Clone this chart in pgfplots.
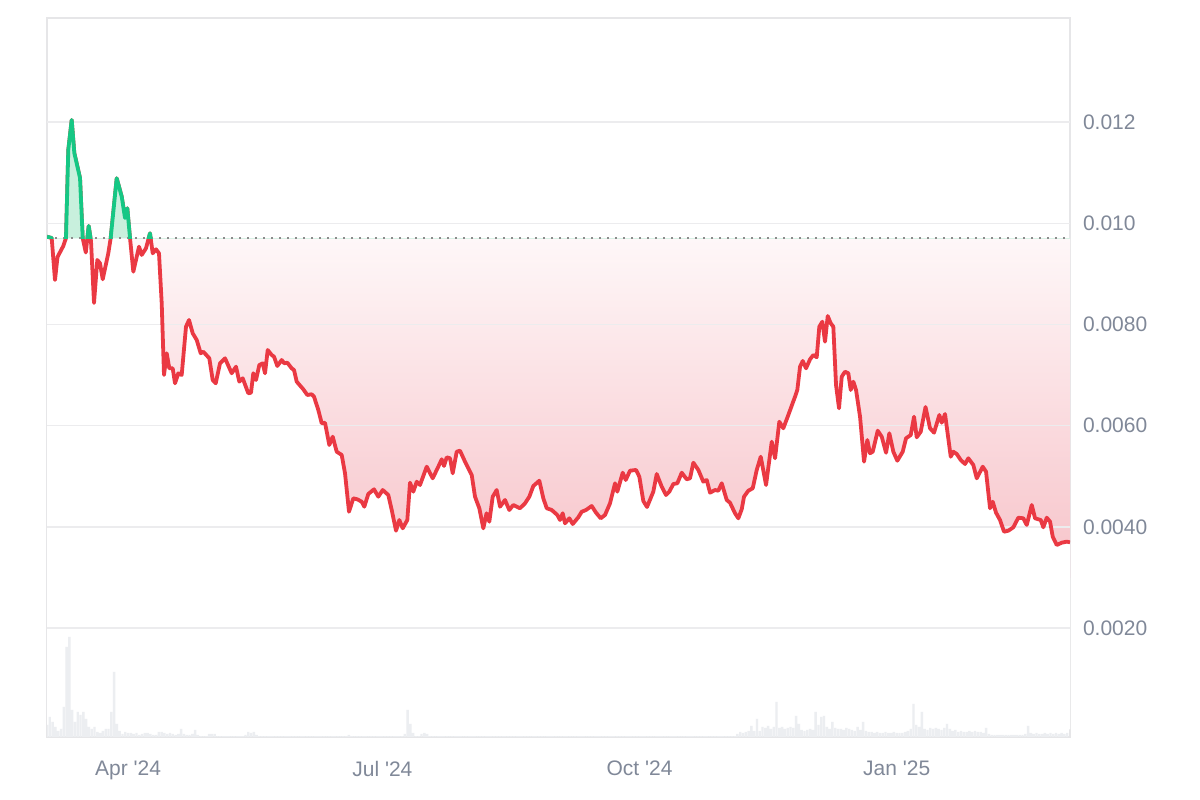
\documentclass[border=0pt]{standalone}
\usepackage{fontspec}
\setmainfont{Liberation Sans}
\usepackage{pgfplots}
\pgfplotsset{compat=1.18}
\usepackage{pgfplotstable}
\definecolor{cgred}{RGB}{234,57,67}
\definecolor{cggreen}{RGB}{22,199,132}
\definecolor{greenfill}{RGB}{200,240,221}
\definecolor{redtop}{RGB}{254,247,248}
\definecolor{redbot}{RGB}{247,195,201}
\definecolor{gridgray}{RGB}{236,236,238}
\definecolor{framegray}{RGB}{230,230,232}
\definecolor{labelgray}{RGB}{128,136,152}
\definecolor{dotgray}{RGB}{140,140,140}
\definecolor{volgray}{RGB}{236,238,241}

\pgfplotstableread{
d p
0.00 0.009735
1.68 0.009709
2.86 0.008879
3.76 0.009334
5.83 0.009551
6.80 0.009709
7.62 0.011449
8.84 0.012042
9.77 0.011389
11.81 0.010895
12.77 0.009709
13.88 0.009423
14.92 0.009947
15.74 0.009650
16.82 0.008425
18.00 0.009275
18.96 0.009209
19.93 0.008893
21.93 0.009407
22.79 0.009709
24.94 0.010889
26.73 0.010526
27.91 0.010105
28.73 0.010296
29.70 0.009709
30.88 0.009043
32.92 0.009538
33.88 0.009374
35.42 0.009506
36.85 0.009802
37.82 0.009407
39.00 0.009486
40.07 0.009407
41.04 0.008419
41.86 0.007002
42.83 0.007431
43.76 0.007134
44.97 0.007134
45.80 0.006838
46.98 0.007036
48.19 0.007002
49.73 0.007957
50.81 0.008089
52.13 0.007826
53.56 0.007694
54.99 0.007431
55.92 0.007462
58.07 0.007332
59.28 0.006903
60.36 0.006838
61.90 0.007233
63.69 0.007332
66.08 0.007036
67.62 0.007166
68.80 0.006870
70.02 0.006937
72.02 0.006640
72.99 0.006652
73.81 0.007036
74.78 0.006903
75.96 0.007200
77.17 0.007233
78.00 0.007036
78.96 0.007496
80.39 0.007397
81.22 0.007364
82.40 0.007180
83.97 0.007298
84.90 0.007233
85.97 0.007245
87.55 0.007134
88.37 0.007101
89.34 0.006870
91.70 0.006719
93.13 0.006607
94.70 0.006621
95.53 0.006573
97.07 0.006310
98.28 0.006047
99.46 0.006059
101.00 0.005619
102.22 0.005783
103.65 0.005486
105.44 0.005421
106.62 0.005059
108.05 0.004300
109.59 0.004565
111.02 0.004545
112.59 0.004498
113.52 0.004399
114.95 0.004650
116.99 0.004743
118.53 0.004597
120.11 0.004729
122.11 0.004630
123.33 0.004334
124.87 0.003925
126.05 0.004136
127.26 0.003972
128.91 0.004136
129.87 0.004874
131.06 0.004696
132.27 0.004893
133.45 0.004828
135.85 0.005190
137.99 0.004960
140.00 0.005190
141.22 0.005336
142.04 0.005204
143.00 0.005375
144.19 0.005356
145.15 0.005059
146.58 0.005486
147.76 0.005506
149.55 0.005289
151.95 0.005026
153.13 0.004597
154.67 0.004368
156.10 0.003972
157.25 0.004269
158.25 0.004103
159.46 0.004597
160.89 0.004729
162.08 0.004399
163.86 0.004532
165.40 0.004334
166.83 0.004433
169.23 0.004368
171.02 0.004466
172.56 0.004597
173.99 0.004808
176.14 0.004913
177.57 0.004565
178.78 0.004368
180.57 0.004334
182.58 0.004235
183.54 0.004136
184.51 0.004269
185.33 0.004071
186.87 0.004170
188.09 0.004057
190.09 0.004190
191.31 0.004300
192.84 0.004334
194.88 0.004413
196.42 0.004281
198.10 0.004170
199.64 0.004235
201.43 0.004466
203.22 0.004862
204.04 0.004696
205.97 0.005071
207.05 0.004927
208.59 0.005111
210.73 0.005125
211.92 0.004992
213.34 0.004512
214.67 0.004393
216.92 0.004696
218.14 0.005045
219.93 0.004794
221.47 0.004630
222.65 0.004696
224.08 0.004848
225.51 0.004862
227.09 0.005071
228.87 0.004941
230.05 0.004960
231.24 0.005269
233.02 0.005125
234.81 0.004893
236.03 0.004927
237.21 0.004676
239.00 0.004729
240.18 0.004715
241.40 0.004862
243.18 0.004532
244.36 0.004478
246.15 0.004269
247.34 0.004170
248.55 0.004348
249.37 0.004597
250.91 0.004715
252.49 0.004763
253.92 0.005125
255.35 0.005387
257.25 0.004828
259.29 0.005684
260.47 0.005356
262.00 0.006079
263.43 0.005949
265.22 0.006211
267.62 0.006573
268.44 0.006706
269.41 0.007166
270.38 0.007279
271.56 0.007134
272.99 0.007312
274.17 0.007397
275.38 0.007352
276.31 0.007957
277.39 0.008055
278.35 0.007660
279.32 0.008168
280.39 0.008024
281.32 0.007957
282.29 0.006804
283.36 0.006344
284.33 0.006968
285.51 0.007067
286.69 0.007036
287.55 0.006706
288.48 0.006870
289.45 0.006706
290.88 0.006178
292.31 0.005289
293.49 0.005717
294.45 0.005455
295.42 0.005486
297.21 0.005901
298.64 0.005783
300.18 0.005466
301.36 0.005850
302.79 0.005486
304.22 0.005308
306.15 0.005486
307.33 0.005751
309.02 0.005816
310.20 0.006178
311.16 0.005771
312.59 0.005881
314.31 0.006370
315.92 0.005949
317.35 0.005862
319.25 0.006211
320.11 0.006059
321.29 0.006231
323.33 0.005387
324.26 0.005486
325.47 0.005441
326.90 0.005322
328.44 0.005243
329.62 0.005356
331.41 0.005223
332.63 0.004960
334.78 0.005190
335.96 0.005091
337.39 0.004368
338.35 0.004498
339.53 0.004281
340.96 0.004136
342.40 0.003905
343.94 0.003925
345.72 0.003992
347.51 0.004182
349.30 0.004170
350.52 0.004038
352.31 0.004433
353.49 0.004170
355.53 0.004136
356.46 0.003992
357.67 0.004182
358.86 0.004103
359.82 0.003806
361.25 0.003642
363.04 0.003688
364.83 0.003708
366.00 0.003696
}\pricedata

\begin{document}
\begin{tikzpicture}
\path[use as bounding box] (-23.5bp,-31.5bp) rectangle (576.5bp,368.5bp);
% price pane
\begin{axis}[at={(0,0)}, anchor=south west, scale only axis,
  width=511.5bp, height=359.5bp,
  xmin=0, xmax=366, ymin=-0.000152, ymax=0.014057,
  axis line style={draw=framegray, line width=0.6bp},
  ytick={0.002,0.004,0.006,0.008,0.010,0.012},
  yticklabels={0.0020,0.0040,0.0060,0.0080,0.010,0.012},
  yticklabel pos=right,
  xtick={29,120,212,304},
  xticklabels={Apr \textquotesingle24, Jul \textquotesingle24, Oct \textquotesingle24, Jan \textquotesingle25},
  major tick length=0pt,
  tick label style={font=\fontsize{10.5bp}{12bp}\selectfont, text=labelgray},
  yticklabel style={anchor=west, xshift=3bp},
  xticklabel style={anchor=north, yshift=-8.5bp},
  scaled y ticks=false,
]
% red gradient area below the baseline
\addplot[draw=none, top color=redtop, bottom color=redbot] coordinates {(0,0.0097)(366,0.0097)(366,0.0030)(0,0.0030)} -- cycle;
% cover what lies below the price line
\addplot[draw=none, fill=white] table[x=d, y=p] {\pricedata} \closedcycle;
% horizontal grid lines
\addplot[draw=gridgray, line width=0.7bp] coordinates {(0,0.002)(366,0.002)};
\addplot[draw=gridgray, line width=0.7bp] coordinates {(0,0.004)(366,0.004)};
\addplot[draw=gridgray, line width=0.7bp] coordinates {(0,0.006)(366,0.006)};
\addplot[draw=gridgray, line width=0.7bp] coordinates {(0,0.008)(366,0.008)};
\addplot[draw=gridgray, line width=0.7bp] coordinates {(0,0.010)(366,0.010)};
\addplot[draw=gridgray, line width=0.7bp] coordinates {(0,0.012)(366,0.012)};
% baseline
\addplot[draw=dotgray, line width=1bp, dash pattern=on 1bp off 3bp] coordinates {(0,0.0097)(366,0.0097)};
\addplot[draw=cgred, line width=1.9bp, line join=round] table[x=d, y=p] {\pricedata};
\end{axis}
% green part above the baseline (axis clipped at the baseline)
\begin{axis}[at={(0,249.26bp)}, anchor=south west, scale only axis,
  width=511.5bp, height=110.24bp, xmin=0, xmax=366, ymin=0.0097, ymax=0.014057, hide axis]
\addplot[draw=none, fill=greenfill] table[x=d, y=p] {\pricedata} \closedcycle;
\addplot[draw=dotgray, line width=1bp, dash pattern=on 1bp off 3bp] coordinates {(0,0.0097)(366,0.0097)};
\addplot[draw=cggreen, line width=1.9bp, line join=round] table[x=d, y=p] {\pricedata};
\end{axis}
% volume pane
\begin{axis}[at={(0,0)}, anchor=south west, scale only axis,
  width=511.5bp, height=359.5bp, xmin=0, xmax=366, ymin=0, ymax=719, hide axis]
\addplot[ybar, bar width=0.85, fill=volgray, draw=none] coordinates {
(0,12)(1,20)(2,15)(3,10)(4,6)(5,8)(6,30)(7,90)(8,100)(9,27)(10,15)(11,25)(12,22)(13,25)(14,18)(15,10)(16,8)(17,10)(18,5)(19,4)(20,6)(21,8)(22,8)(23,25)(24,65)(25,13)(26,6)(27,3)(28,5)(29,4)(30,4)(31,3)(32,4)(33,2)(34,3)(35,4)(36,4)(37,3)(38,2)(39,2)(40,5)(41,5)(42,4)(43,3)(44,4)(45,3)(46,2)(47,3)(48,8)(49,3)(50,2)(51,2)(52,3)(53,7)(54,2)
(55,1)(56,1)(57,1)(58,3)(59,3)(60,3)(61,1)(62,1)(63,1)(64,1)(65,1)(66,1)(67,1)(68,1)(69,1)(70,1)(71,2)(72,5)(73,4)(74,5)(75,2)(76,1)(77,1)(78,1)(79,1)(80,1)(81,1)(82,1)(83,1)(84,1)(85,1)(86,1)(87,1)(88,1)(89,1)(90,1)(91,1)(92,1)(93,1)(94,1)(95,1)(96,1)(97,1)(98,1)(99,1)(100,1)(101,1)(102,1)(103,1)(104,1)(105,1)(106,1)(107,1)(108,2)(109,1)(110,1)(111,1)(112,1)(113,1)(114,1)(115,1)(116,1)(117,1)(118,1)(119,1)(120,1)(121,1)(122,1)(123,1)(124,1)(125,1)(126,1)(127,1)(128,3)(129,27)(130,13)(131,4)
(132,1)(133,1)(134,3)(135,4)(136,3)(137,1)(138,1)(139,1)(140,1)(141,1)(142,1)(143,1)(144,1)(145,1)(146,1)(147,1)(148,1)(149,1)(150,1)(151,1)(152,1)(153,1)(154,1)(155,1)(156,1)(157,1)(158,1)(159,1)(160,1)(161,1)(162,1)(163,1)(164,1)(165,1)(166,1)(167,1)(168,1)(169,1)(170,1)(171,1)(172,1)(173,1)(174,1)(175,1)(176,1)(177,1)(178,1)(179,1)(180,1)(181,1)(182,1)(183,1)(184,1)(185,1)(186,1)(187,1)(188,1)(189,1)
(190,1)(191,1)(192,1)(193,1)(194,1)(195,1)(196,1)(197,1)(198,1)(199,1)(200,1)(201,1)(202,1)(203,1)(204,1)(205,1)(206,1)(207,1)(208,1)(209,1)(210,1)(211,1)(212,1)(213,1)(214,1)(215,1)(216,1)(217,1)(218,1)(219,1)(220,1)(221,1)(222,1)(223,1)(224,1)(225,1)(226,1)(227,1)(228,1)(229,1)(230,1)(231,1)(232,1)(233,1)(234,1)(235,1)(236,1)(237,1)(238,1)(239,1)(240,1)(241,1)(242,1)(243,1)(244,1)(245,1)(246,1)(247,3)
(248,5)(249,4)(250,5)(251,6)(252,11)(253,6)(254,18)(255,6)(256,10)(257,9)(258,11)(259,8)(260,10)(261,35)(262,9)(263,10)(264,8)(265,9)(266,10)(267,9)(268,21)(269,13)(270,7)(271,6)(272,7)(273,8)(274,7)(275,25)(276,12)(277,20)(278,21)(279,10)(280,8)(281,15)(282,9)(283,8)(284,8)(285,7)(286,9)(287,8)(288,7)(289,6)(290,10)(291,7)(292,15)(293,6)(294,5)(295,5)(296,4)(297,5)(298,4)(299,4)(300,5)(301,4)(302,4)(303,5)(304,4)(305,4)(306,4)(307,5)(308,6)(309,8)
(310,33)(311,12)(312,10)(313,25)(314,8)(315,7)(316,9)(317,8)(318,9)(319,8)(320,7)(321,9)(322,13)(323,8)(324,6)(325,7)(326,5)(327,6)(328,5)(329,5)(330,6)(331,5)(332,6)(333,5)(334,5)(335,4)(336,9)(337,3)(338,2)(339,2)(340,2)(341,2)(342,2)(343,2)(344,2)(345,2)(346,2)(347,2)(348,2)(349,2)(350,3)(351,11)(352,4)(353,3)(354,4)(355,3)(356,3)(357,4)(358,3)(359,4)(360,3)(361,4)(362,3)(363,4)(364,3)(365,4)
};
\end{axis}
\end{tikzpicture}
\end{document}
